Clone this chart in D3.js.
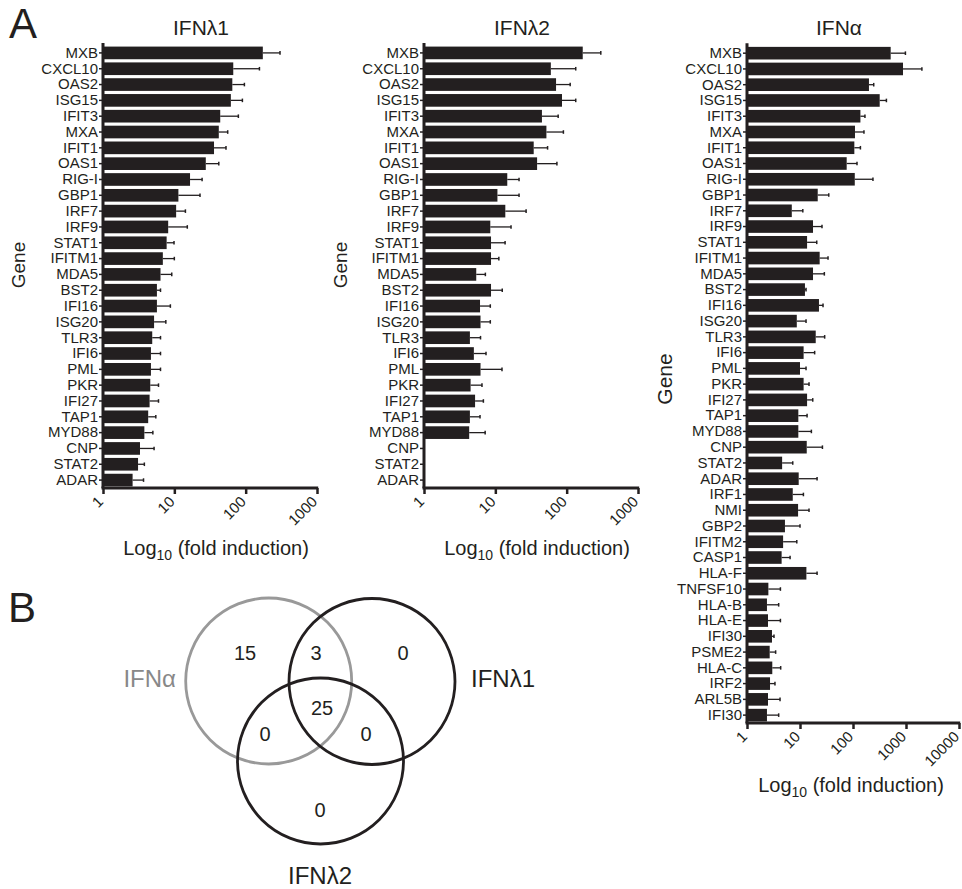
<!DOCTYPE html>
<html>
<head>
<meta charset="utf-8">
<script src="https://cdn.jsdelivr.net/npm/d3@7"></script>
<style>
  body { margin: 0; background: #fff; }
  svg { font-family: 'Liberation Sans', Arial, sans-serif; }
</style>
</head>
<body>
<svg id="chart" width="962" height="889"></svg>
<script>
// genes shared by the two lambda panels
const genesLambda = ['MXB', 'CXCL10', 'OAS2', 'ISG15', 'IFIT3', 'MXA', 'IFIT1', 'OAS1', 'RIG-I', 'GBP1',
  'IRF7', 'IRF9', 'STAT1', 'IFITM1', 'MDA5', 'BST2', 'IFI16', 'ISG20', 'TLR3', 'IFI6',
  'PML', 'PKR', 'IFI27', 'TAP1', 'MYD88', 'CNP', 'STAT2', 'ADAR']
const genesAlpha = genesLambda.concat(['IRF1', 'NMI', 'GBP2', 'IFITM2', 'CASP1', 'HLA-F', 'TNFSF10',
  'HLA-B', 'HLA-E', 'IFI30', 'PSME2', 'HLA-C', 'IRF2', 'ARL5B', 'IFI30'])

const lambda1Mean = [174, 67, 65, 62, 44, 42, 36, 27.6, 16.6, 11.4, 10.6, 8.2, 7.8, 6.9, 6.4, 5.7, 5.7, 5.2, 4.9, 4.7,
  4.7, 4.6, 4.5, 4.3, 3.8, 3.3, 3.1, 2.6]
const lambda1Err = [303, 156, 96, 90, 79, 56, 53, 42, 24.5, 22.9, 14.3, 15.2, 9.9, 10, 9.2, 6.4, 8.8, 7.6, 6.4, 6.4,
  6.4, 6.0, 6.0, 5.5, 5.0, 5.2, 3.8, 3.7]

const lambda2Mean = [168, 60, 71, 86, 45, 52, 34.5, 38.5, 14.7, 10.7, 13.8, 8.5, 8.7, 8.7, 5.4, 8.7, 6.1, 6.2, 4.4, 5.0,
  6.2, 4.5, 5.2, 4.4, 4.3, null, null, null]
const lambda2Err = [301, 134, 112, 134, 76, 90, 54, 73, 21.5, 21.5, 27, 16.6, 13.7, 11.2, 7.25, 12.5, 8.5, 8.5, 6.2, 7.4,
  12.4, 6.5, 6.8, 6.1, 7.2, null, null, null]

const alphaMean = [514, 878, 200, 319, 138, 109, 106, 76, 108, 21.6, 7.0, 17.6, 13.6, 23.5, 17.6, 12.4, 22.8, 8.7, 19.8, 11.7,
  10, 11.7, 13.6, 9.3, 9.3, 13.4, 4.6, 9.45, 7.3, 9.2, 5.2, 4.8, 4.5, 13.2, 2.53, 2.38, 2.49, 2.96, 2.68, 3.0,
  2.72, 2.49, 2.38]
const alphaErr = [975, 1995, 246, 427, 168, 161, 138, 119, 238, 34.9, 11.3, 26, 20.7, 33.8, 28.8, 13.0, 27.2, 13.0, 29.2, 18.9,
  13, 14.8, 17.4, 13.6, 16.4, 26.5, 7.3, 21, 11.6, 14.8, 10, 8.7, 6.5, 21, 4.27, 3.96, 4.27, 3.23, 3.47, 4.32,
  3.37, 4.2, 3.96]

const ticksLambda = [1, 10, 100, 1000]
const ticksAlpha = [1, 10, 100, 1000, 10000]

// venn: region counts
const vennLabels = ['IFNα', 'IFNλ1', 'IFNλ2']
const vennCounts = { a: 15, ab: 3, b: 0, abc: 25, ac: 0, bc: 0, c: 0 }

const svg = d3.select('#chart')
const ink = '#231f20'

function drawPanel (opt) {
  const g = svg.append('g')
  const n = opt.genes.length
  const x = d3.scaleLog().domain([1, opt.ticks[opt.ticks.length - 1]]).range([opt.x0, opt.x1])
  const y = d3.scaleBand().domain(d3.range(n)).range([opt.y0, opt.y1]).paddingInner(0.2).paddingOuter(0.1)

  const rows = opt.genes.map((gene, i) => ({ i, gene, mean: opt.mean[i], err: opt.err[i] }))
    .filter(d => d.mean != null)

  g.selectAll('rect.bar').data(rows).join('rect')
    .attr('class', 'bar')
    .attr('x', x(1))
    .attr('y', d => y(d.i))
    .attr('width', d => x(d.mean) - x(1))
    .attr('height', y.bandwidth())
    .attr('fill', ink)

  // error bars
  g.selectAll('line.err').data(rows).join('line')
    .attr('x1', d => x(d.mean)).attr('x2', d => x(d.err))
    .attr('y1', d => y(d.i) + y.bandwidth() / 2).attr('y2', d => y(d.i) + y.bandwidth() / 2)
    .attr('stroke', ink).attr('stroke-width', 1.3)
  g.selectAll('line.cap').data(rows).join('line')
    .attr('x1', d => x(d.err)).attr('x2', d => x(d.err))
    .attr('y1', d => y(d.i) + y.bandwidth() / 2 - 1.8).attr('y2', d => y(d.i) + y.bandwidth() / 2 + 1.8)
    .attr('stroke', ink).attr('stroke-width', 1.5)

  // y axis
  const yAxis = g.append('g')
    .attr('transform', `translate(${opt.x0},0)`)
    .call(d3.axisLeft(y).tickSize(4).tickPadding(1).tickFormat(i => opt.genes[i]))
  yAxis.select('.domain').remove()
  yAxis.selectAll('.tick line').attr('stroke', ink).attr('stroke-width', 1.5)
  yAxis.selectAll('text').attr('font-size', 15).attr('fill', ink)
  g.append('line')
    .attr('x1', opt.x0).attr('x2', opt.x0)
    .attr('y1', opt.y0 - 2).attr('y2', opt.y1)
    .attr('stroke', ink).attr('stroke-width', 3)

  // x axis
  const xAxis = g.append('g')
    .attr('transform', `translate(0,${opt.y1})`)
    .call(d3.axisBottom(x).tickValues(opt.ticks).tickFormat(d3.format('d')).tickSize(6))
  xAxis.select('.domain').remove()
  xAxis.selectAll('.tick line').attr('stroke', ink).attr('stroke-width', 2.5)
  xAxis.selectAll('text')
    .attr('font-size', 15).attr('fill', ink)
    .attr('y', 0).attr('dy', '0.35em')
    .attr('text-anchor', 'end')
    .attr('transform', 'translate(-3,11) rotate(-45)')
  g.append('line')
    .attr('x1', opt.x0 - 1.5).attr('x2', opt.x1 + 1.2)
    .attr('y1', opt.y1).attr('y2', opt.y1)
    .attr('stroke', ink).attr('stroke-width', 3)

  // titles
  g.append('text')
    .attr('x', opt.titleX).attr('y', 35)
    .attr('text-anchor', 'middle').attr('font-size', 21).attr('fill', ink)
    .text(opt.title)

  g.append('text')
    .attr('transform', `translate(${opt.geneX},${opt.geneY}) rotate(-90)`)
    .attr('text-anchor', 'middle').attr('font-size', opt.geneSize).attr('fill', ink)
    .text('Gene')

  const lab = g.append('text')
    .attr('x', opt.labX).attr('y', opt.labY)
    .attr('text-anchor', 'middle').attr('font-size', 20).attr('fill', ink)
  lab.append('tspan').text('Log')
  lab.append('tspan').attr('font-size', 14).attr('dy', 5).text('10')
  lab.append('tspan').attr('dy', -5).text(' (fold induction)')
}

drawPanel({
  genes: genesLambda, mean: lambda1Mean, err: lambda1Err, ticks: ticksLambda,
  x0: 103, x1: 317, y0: 45, y1: 488,
  title: 'IFNλ1', titleX: 201, geneX: 25, geneY: 265, geneSize: 19, labX: 216, labY: 555
})
drawPanel({
  genes: genesLambda, mean: lambda2Mean, err: lambda2Err, ticks: ticksLambda,
  x0: 424, x1: 638, y0: 45, y1: 488,
  title: 'IFNλ2', titleX: 522, geneX: 347, geneY: 265, geneSize: 19, labX: 537, labY: 555
})
drawPanel({
  genes: genesAlpha, mean: alphaMean, err: alphaErr, ticks: ticksAlpha,
  x0: 747, x1: 959, y0: 45.3, y1: 723,
  title: 'IFNα', titleX: 839, geneX: 672, geneY: 379, geneSize: 21, labX: 851, labY: 792
})

// panel letters
svg.append('text').attr('x', 9).attr('y', 38).attr('font-size', 42).attr('fill', ink).text('A')
svg.append('text').attr('x', 8).attr('y', 622).attr('font-size', 42).attr('fill', ink).text('B')

// venn diagram
const venn = svg.append('g')
const circles = [
  { cx: 268.7, cy: 681, color: '#999999' },
  { cx: 372, cy: 681.5, color: ink },
  { cx: 320.5, cy: 761, color: ink }
]
venn.selectAll('circle').data(circles).join('circle')
  .attr('cx', d => d.cx).attr('cy', d => d.cy).attr('r', 83)
  .attr('fill', 'none').attr('stroke', d => d.color).attr('stroke-width', 2.8)

const regionPos = {
  a: [245, 653], ab: [316, 653], b: [403, 653], abc: [322, 708],
  ac: [265, 734], bc: [366, 734], c: [320, 810]
}
venn.selectAll('text.count').data(Object.keys(vennCounts)).join('text')
  .attr('x', k => regionPos[k][0]).attr('y', k => regionPos[k][1])
  .attr('dy', '0.35em').attr('text-anchor', 'middle')
  .attr('font-size', 20).attr('fill', ink)
  .text(k => vennCounts[k])

const labelPos = [
  { x: 176, y: 679, anchor: 'end', color: '#888888' },
  { x: 471, y: 679, anchor: 'start', color: ink },
  { x: 320, y: 876, anchor: 'middle', color: ink }
]
venn.selectAll('text.setlab').data(vennLabels).join('text')
  .attr('x', (d, i) => labelPos[i].x).attr('y', (d, i) => labelPos[i].y)
  .attr('dy', '0.35em').attr('text-anchor', (d, i) => labelPos[i].anchor)
  .attr('font-size', 24).attr('fill', (d, i) => labelPos[i].color)
  .text(d => d)
</script>
</body>
</html>
